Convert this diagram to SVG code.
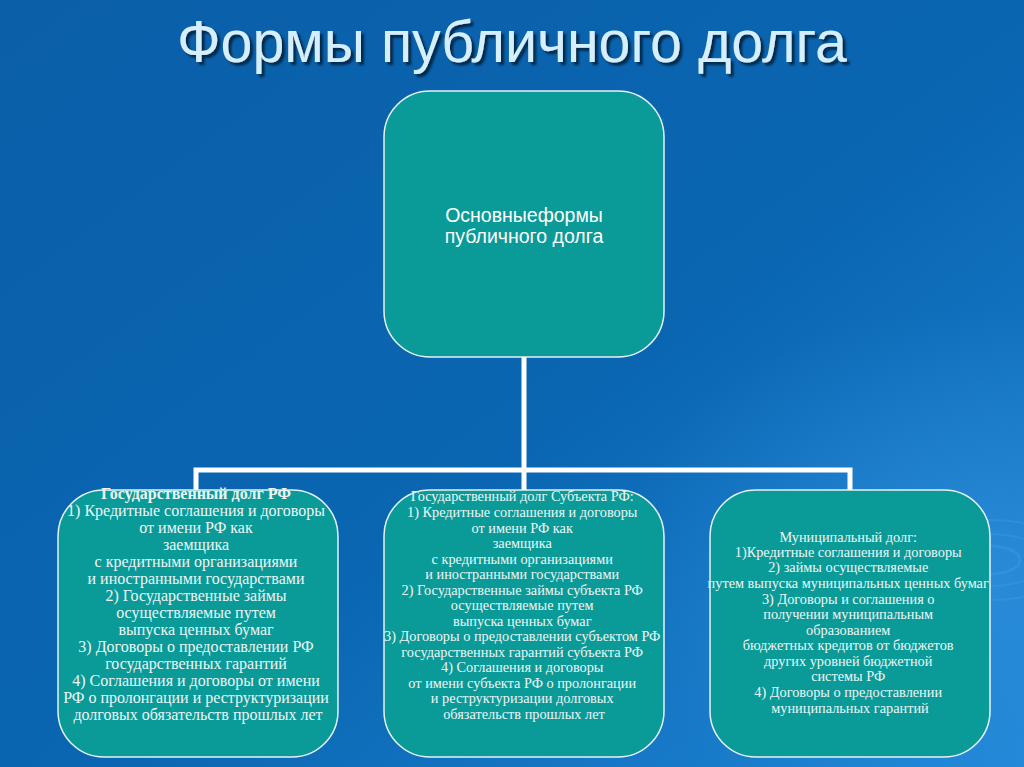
<svg xmlns="http://www.w3.org/2000/svg" width="1024" height="767" viewBox="0 0 1024 767">
<defs>
<linearGradient id="bg" x1="0" y1="0" x2="1" y2="1">
<stop offset="0" stop-color="#0a5fa8"/>
<stop offset="0.55" stop-color="#0a66b2"/>
<stop offset="1" stop-color="#1f86d6"/>
</linearGradient>
<radialGradient id="glow" cx="0.95" cy="0.75" r="0.35">
<stop offset="0" stop-color="#3a9ae6" stop-opacity="0.5"/>
<stop offset="1" stop-color="#3a9ae6" stop-opacity="0"/>
</radialGradient>
<filter id="shadow" x="-5%" y="-20%" width="110%" height="150%">
<feDropShadow dx="3" dy="3" stdDeviation="0.8" flood-color="#06223f" flood-opacity="0.9"/>
</filter>
</defs>
<style>
.box{fill:#0a9a98;stroke:#e6f2f5;stroke-width:1.5}
.conn{stroke:#ffffff;stroke-width:5;fill:none}
.t{font-family:"Liberation Sans",Arial,sans-serif;fill:#ffffff;text-anchor:middle}
.s{font-family:"Liberation Serif","Times New Roman",serif;fill:#eef6f6;text-anchor:middle}
.title{font-family:"Liberation Sans",Arial,sans-serif;font-size:59px;text-anchor:middle;fill:#d6efff}
.ring{fill:none;stroke:#5fb0f0;stroke-opacity:0.2}
</style>
<rect width="1024" height="767" fill="url(#bg)"/>
<rect width="1024" height="767" fill="url(#glow)"/>
<g>
<ellipse class="ring" cx="990" cy="560" rx="30" ry="14" stroke-width="3"/>
<ellipse class="ring" cx="990" cy="560" rx="55" ry="26" stroke-width="2"/>
<ellipse class="ring" cx="990" cy="560" rx="85" ry="40" stroke-width="2"/>
</g>
<g id="title">
<text class="title" x="512" y="62" filter="url(#shadow)" textLength="670" lengthAdjust="spacingAndGlyphs">Формы публичного долга</text>
</g>
<g id="connectors">
<path class="conn" d="M524 357 V470 M196 470 H850 M196 467.5 V490 M524 470 V490 M850 467.5 V490"/>
</g>
<g id="root">
<rect class="box" x="384" y="91" width="280" height="266" rx="46"/>
<text class="t" x="524" y="222" font-size="19.5">Основныеформы</text>
<text class="t" x="524" y="243" font-size="19.5">публичного долга</text>
</g>
<g id="state">
<rect class="box" x="58" y="490" width="280" height="267" rx="46"/>
<text class="s" font-size="16">
<tspan x="198" y="499" font-weight="bold">Государственный долг РФ</tspan>
<tspan x="198" y="516">1) Кредитные соглашения и договоры</tspan>
<tspan x="198" y="533">от имени РФ как</tspan>
<tspan x="198" y="550">заемщика</tspan>
<tspan x="198" y="567">с кредитными организациями</tspan>
<tspan x="198" y="584">и иностранными государствами</tspan>
<tspan x="198" y="601">2) Государственные займы</tspan>
<tspan x="198" y="618">осуществляемые путем</tspan>
<tspan x="198" y="635">выпуска ценных бумаг</tspan>
<tspan x="198" y="652">3) Договоры о предоставлении РФ</tspan>
<tspan x="198" y="669">государственных гарантий</tspan>
<tspan x="198" y="686">4) Соглашения и договоры от имени</tspan>
<tspan x="198" y="703">РФ о пролонгации и реструктуризации</tspan>
<tspan x="198" y="720">долговых обязательств прошлых лет</tspan>
</text>
</g>
<g id="subject">
<rect class="box" x="384" y="490" width="280" height="267" rx="46"/>
<text class="s" font-size="14.3">
<tspan x="524" y="501">Государственный долг Субъекта РФ:</tspan>
<tspan x="524" y="517">1) Кредитные соглашения и договоры</tspan>
<tspan x="524" y="533">от имени РФ как</tspan>
<tspan x="524" y="548">заемщика</tspan>
<tspan x="524" y="564">с кредитными организациями</tspan>
<tspan x="524" y="579">и иностранными государствами</tspan>
<tspan x="524" y="595">2) Государственные займы субъекта РФ</tspan>
<tspan x="524" y="610">осуществляемые путем</tspan>
<tspan x="524" y="626">выпуска ценных бумаг</tspan>
<tspan x="524" y="641">3) Договоры о предоставлении субъектом РФ</tspan>
<tspan x="524" y="657">государственных гарантий субъекта РФ</tspan>
<tspan x="524" y="672">4) Соглашения и договоры</tspan>
<tspan x="524" y="688">от имени субъекта РФ о пролонгации</tspan>
<tspan x="524" y="703">и реструктуризации долговых</tspan>
<tspan x="524" y="719">обязательств прошлых лет</tspan>
</text>
</g>
<g id="municipal">
<rect class="box" x="710" y="490" width="280" height="267" rx="46"/>
<text class="s" font-size="14.3">
<tspan x="850" y="542">Муниципальный долг:</tspan>
<tspan x="850" y="557">1)Кредитные соглашения и договоры</tspan>
<tspan x="850" y="572">2) займы осуществляемые</tspan>
<tspan x="850" y="588">путем выпуска муниципальных ценных бумаг</tspan>
<tspan x="850" y="604">3) Договоры и соглашения о</tspan>
<tspan x="850" y="619">получении муниципальным</tspan>
<tspan x="850" y="635">образованием</tspan>
<tspan x="850" y="650">бюджетных кредитов от бюджетов</tspan>
<tspan x="850" y="666">других уровней бюджетной</tspan>
<tspan x="850" y="681">системы РФ</tspan>
<tspan x="850" y="697">4) Договоры о предоставлении</tspan>
<tspan x="850" y="713">муниципальных гарантий</tspan>
</text>
</g>
</svg>
